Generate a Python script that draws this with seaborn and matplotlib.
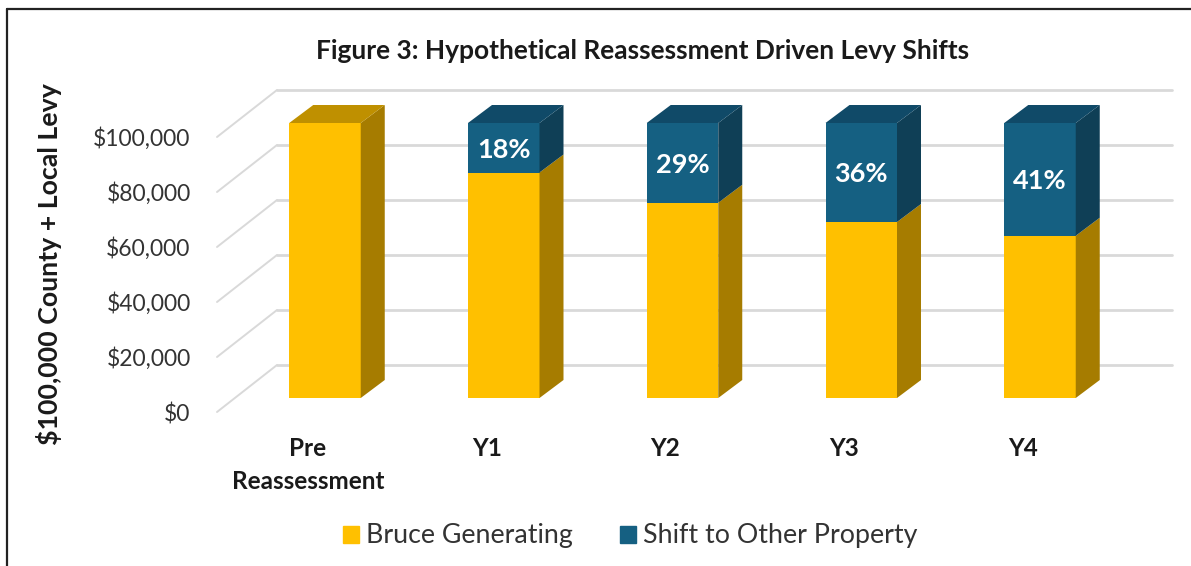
import matplotlib
matplotlib.use("Agg")
import matplotlib.pyplot as plt
from matplotlib.lines import Line2D
from matplotlib.patches import Patch, Polygon
from matplotlib.transforms import ScaledTranslation
import seaborn as sns

categories = ["Pre\nReassessment", "Y1", "Y2", "Y3", "Y4"]
bruce = [100000, 82000, 71000, 64000, 59000]
shift = [0, 18000, 29000, 36000, 41000]
pct_labels = ["", "18%", "29%", "36%", "41%"]
y_ticks = [0, 20000, 40000, 60000, 80000, 100000]
y_tick_labels = ["$0", "$20,000", "$40,000", "$60,000", "$80,000", "$100,000"]

W, H = 1191, 566
GOLD, GOLD_SIDE, GOLD_TOP = "#FFC000", "#A67C00", "#BF9000"
BLUE, BLUE_SIDE, BLUE_TOP = "#156082", "#0F3F56", "#104A68"
TEXT = "#1a1a1a"

sns.set_theme(style="white")
plt.rcParams["font.family"] = ["Lato", "DejaVu Sans"]

fig = plt.figure(figsize=(W / 100, H / 100), dpi=100)
# axes box in pixels: left 217, right 1172, top 90, bottom 412
ax = fig.add_axes([217 / W, 1 - 412 / H, 955 / W, 322 / H])

sx = 178.75  # px per category
sy = 275 / 100000  # px per dollar


def px_x(p):
    return p / sx


def px_y(p):
    return p / sy


totals = [b + s for b, s in zip(bruce, shift)]
sns.barplot(x=categories, y=totals, color=BLUE, saturation=1, width=0.4, linewidth=0, ax=ax, zorder=2)
sns.barplot(x=categories, y=bruce, color=GOLD, saturation=1, width=0.4, linewidth=0, ax=ax, zorder=2)

x0 = -108 / sx
x1 = x0 + 955 / sx
ax.set_xlim(x0, x1)
ax.set_ylim(px_y(-14), px_y(308))

# walls of the fake 3d box
for v in y_ticks:
    back = v + px_y(33)
    ax.plot([x0, x0 + px_x(60)], [v - px_y(14), back], color="#d9d9d9", lw=1.4, zorder=1, clip_on=False)
    ax.plot([x0 + px_x(60), x1], [back, back], color="#d9d9d9", lw=2, zorder=1, clip_on=False)

# bar depth
dx, dy = px_x(24), px_y(18)
hw = 0.2
for i in range(len(categories)):
    r = i + hw
    l = i - hw
    b = bruce[i]
    t = totals[i]
    ax.add_patch(Polygon([(r, 0), (r + dx, dy), (r + dx, b + dy), (r, b)], fc=GOLD_SIDE, ec="none", zorder=3, clip_on=False))
    if shift[i] > 0:
        ax.add_patch(Polygon([(r, b), (r + dx, b + dy), (r + dx, t + dy), (r, t)], fc=BLUE_SIDE, ec="none", zorder=3, clip_on=False))
        ax.text(i, b + shift[i] / 2 - px_y(2), pct_labels[i], color="white", fontsize=19.5, fontweight="bold", ha="center", va="center", zorder=4)
    top_col = BLUE_TOP if shift[i] > 0 else GOLD_TOP
    ax.add_patch(Polygon([(l, t), (l + dx, t + dy), (r + dx, t + dy), (r, t)], fc=top_col, ec="none", zorder=3, clip_on=False))

sns.despine(ax=ax, left=True, bottom=True, top=True, right=True)
ax.set_xlabel("")
ax.set_ylabel("$100,000 County + Local Levy", fontsize=19.3, fontweight="bold", color=TEXT)
ax.yaxis.set_label_coords((62 - 217) / 955, (412 - 264) / 322)

ax.set_yticks(y_ticks)
ax.set_yticklabels(y_tick_labels, fontsize=16.5, color="#333333")
ax.tick_params(axis="y", length=0, pad=19)
ax.tick_params(axis="x", length=0, pad=18)
ax.set_xticks(range(len(categories)))
ax.set_xticklabels(categories, fontsize=17.5, fontweight="bold", color=TEXT, linespacing=1.55)

for lab in ax.get_yticklabels():
    lab.set_transform(lab.get_transform() + ScaledTranslation(0, -14 / 100, fig.dpi_scale_trans))
for lab in ax.get_xticklabels():
    lab.set_transform(lab.get_transform() + ScaledTranslation(-17 / 100, 0, fig.dpi_scale_trans))

ax.set_title("Figure 3: Hypothetical Reassessment Driven Levy Shifts", fontsize=19, fontweight="bold",
             color=TEXT, x=(643 - 217) / 955, y=(412 - 67) / 322)

handles = [Patch(color=GOLD, label="Bruce Generating"), Patch(color=BLUE, label="Shift to Other Property")]
fig.legend(handles=handles, loc="center", bbox_to_anchor=(630 / W, 1 - 536 / H), ncol=2, frameon=False,
           fontsize=19.3, labelcolor="#333333", handlelength=0.6, handleheight=0.6, handletextpad=0.26, columnspacing=1.75)

# outer frame, only top and left show
fig.add_artist(Line2D([7 / W, 7 / W], [0, 1 - 9 / H], color="#222222", lw=1.6))
fig.add_artist(Line2D([7 / W, 1], [1 - 9 / H, 1 - 9 / H], color="#222222", lw=1.6))

fig.savefig("out.png", dpi=100)
